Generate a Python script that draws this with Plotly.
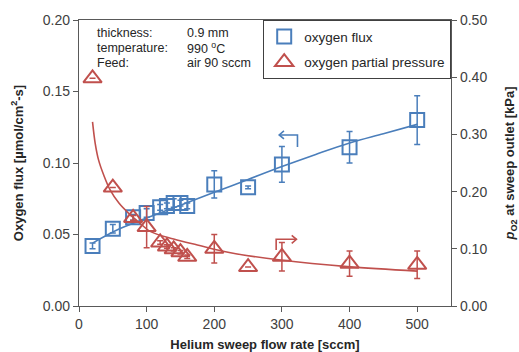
import plotly.graph_objects as go

# ---- data ----
flow = [20, 50, 80, 100, 120, 130, 140, 150, 160, 200, 250, 300, 400, 500]
flux = [0.042, 0.054, 0.062, 0.065, 0.069, 0.070, 0.072, 0.072, 0.070, 0.085, 0.083, 0.099, 0.111, 0.130]
flux_err = [0.002, 0.003, 0.002, 0.003, 0.002, 0.002, 0.003, 0.002, 0.002, 0.0095, 0.001, 0.0125, 0.011, 0.017]

po2 = [0.398, 0.207, 0.154, 0.138, 0.111, 0.104, 0.099, 0.094, 0.086, 0.100, 0.068, 0.086, 0.074, 0.072]
po2_err = [0.0, 0.0, 0.004, 0.036, 0.003, 0.003, 0.003, 0.003, 0.003, 0.025, 0.0, 0.025, 0.022, 0.024]

# fitted curves
flux_fit_x = [20, 60, 100, 150, 200, 250, 300, 350, 400, 450, 500]
flux_fit_y = [0.0440, 0.0540, 0.0615, 0.0705, 0.0795, 0.0885, 0.0975, 0.1060, 0.1140, 0.1205, 0.1270]

po2_fit_x = [20, 24, 29, 36.5, 46, 59, 73.5, 88, 106, 140, 175, 224, 298, 397, 500]
po2_fit_y = [0.322, 0.284, 0.255, 0.229, 0.203, 0.180, 0.162, 0.147, 0.130, 0.117, 0.1066, 0.093, 0.0804, 0.0688, 0.061]

x_ticks = [0, 100, 200, 300, 400, 500]
y1_ticks = [0.00, 0.05, 0.10, 0.15, 0.20]
y2_ticks = [0.0, 0.1, 0.2, 0.3, 0.4, 0.5]

BLUE = "#4a7ebb"
RED = "#c0504d"
AXIS = "#595959"
TXT = "#262626"
FONT = "Liberation Sans, Arial, sans-serif"

fig = go.Figure()

fig.add_trace(go.Scatter(
    x=flux_fit_x, y=flux_fit_y, mode="lines", line=dict(color=BLUE, width=1.6, shape="spline"),
    showlegend=False, hoverinfo="skip"))
fig.add_trace(go.Scatter(
    x=po2_fit_x, y=po2_fit_y, yaxis="y2", mode="lines",
    line=dict(color=RED, width=1.6, shape="spline"), showlegend=False, hoverinfo="skip"))

fig.add_trace(go.Scatter(
    x=flow, y=flux, mode="markers", name="oxygen flux", legendgroup="a",
    marker=dict(symbol="square-open", size=14, color=BLUE, line=dict(width=2, color=BLUE)),
    error_y=dict(type="data", array=flux_err, color=BLUE, thickness=1.5, width=3)))
fig.add_trace(go.Scatter(
    x=flow, y=po2, yaxis="y2", mode="markers", name="oxygen partial pressure", legendgroup="b",
    marker=dict(symbol="triangle-up-open", size=16, color=RED, line=dict(width=2, color=RED)),
    error_y=dict(type="data", array=po2_err, color=RED, thickness=1.5, width=3)))

shapes = [
    # blue bent arrow (pointing to left axis)
    dict(type="path", xref="x", yref="y", path="M 323,0.1112 L 323,0.1196 L 296,0.1196",
         line=dict(color=BLUE, width=1.6)),
    dict(type="path", xref="x", yref="y", path="M 303,0.1224 L 296,0.1196 L 303,0.1168",
         line=dict(color=BLUE, width=1.6)),
    # red bent arrow (pointing to right axis)
    dict(type="path", xref="x", yref="y2", path="M 291.5,0.098 L 291.5,0.1166 L 321.5,0.1166",
         line=dict(color=RED, width=1.6)),
    dict(type="path", xref="x", yref="y2", path="M 314.5,0.1236 L 321.5,0.1166 L 314.5,0.1096",
         line=dict(color=RED, width=1.6)),
]

ann = []
rows = [("thickness:", "0.9 mm", 0.955), ("temperature:", "990 <sup>o</sup>C", 0.902), ("Feed:", "air 90 sccm", 0.850)]
for a, b, yy in rows:
    ann.append(dict(text=a, xref="paper", yref="paper", x=0.042, y=yy, xanchor="left", yanchor="middle",
                    showarrow=False, font=dict(family=FONT, size=12.5, color=TXT)))
    ann.append(dict(text=b, xref="paper", yref="paper", x=0.284, y=yy, xanchor="left", yanchor="middle",
                    showarrow=False, font=dict(family=FONT, size=12.5, color=TXT)))

fig.update_layout(
    width=519, height=352,
    margin=dict(l=79, r=68, t=20, b=46),
    paper_bgcolor="white", plot_bgcolor="white",
    font=dict(family=FONT, size=14, color=TXT),
    showlegend=True,
    legend=dict(x=1, y=1, xanchor="right", yanchor="top", bgcolor="white",
                bordercolor="#404040", borderwidth=1.2, font=dict(family=FONT, size=13.5, color=TXT),
                itemwidth=30, tracegroupgap=5, traceorder="grouped"),
    xaxis=dict(range=[0, 550], tickvals=x_ticks, ticks="outside", ticklen=5, tickcolor=AXIS,
               showline=True, linecolor=AXIS, linewidth=1.3, mirror=True, showgrid=False, zeroline=False,
               tickfont=dict(size=14, color="#404040"), automargin=False,
               title=dict(text="<b>Helium sweep flow rate [sccm]</b>", font=dict(size=13, color=TXT), standoff=12)),
    yaxis=dict(range=[0, 0.20], tickvals=y1_ticks, tickformat=".2f", ticks="outside", ticklen=5, tickcolor=AXIS,
               showline=True, linecolor=AXIS, linewidth=1.3, showgrid=False, zeroline=False,
               tickfont=dict(size=14, color="#404040"), automargin=False,
               title=dict(text="<b>Oxygen flux [µmol/cm<sup>2</sup>-s]</b>", font=dict(size=13, color=TXT), standoff=16)),
    yaxis2=dict(range=[0, 0.5], tickvals=y2_ticks, tickformat=".2f", ticks="outside", ticklen=5, tickcolor=AXIS,
                overlaying="y", side="right", showline=True, linecolor=AXIS, linewidth=1.3,
                showgrid=False, zeroline=False, tickfont=dict(size=14, color="#404040"), automargin=False,
                title=dict(text="<b><i>p</i><sub>O2</sub> at sweep outlet [kPa]</b>", font=dict(size=13, color=TXT), standoff=18)),
    shapes=shapes, annotations=ann,
)

fig.write_html("out.html")
